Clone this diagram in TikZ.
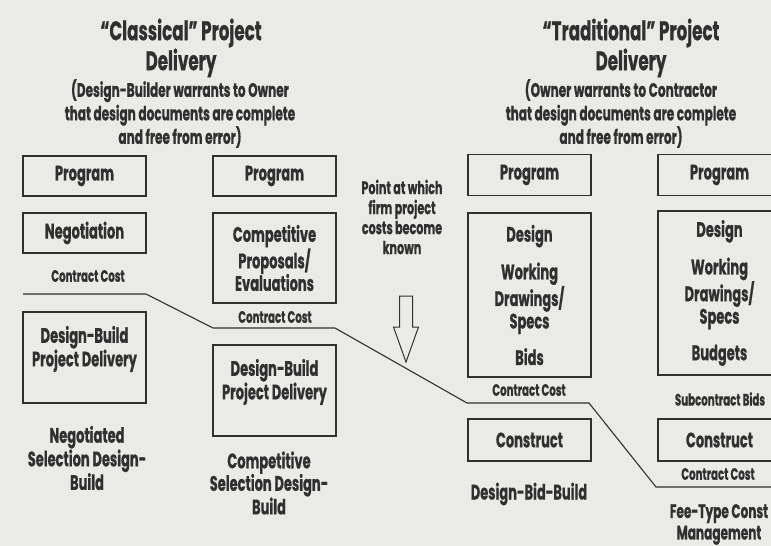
\documentclass[tikz,border=0pt]{standalone}
\usepackage{fontspec}
\usepackage{xcolor}
\usepackage{tikz}
\usetikzlibrary{positioning}
\newfontfamily\condfont{Poppins}[FakeStretch=0.62, FakeBold=0.6]
\definecolor{paper}{RGB}{234,234,231}
\definecolor{ink}{RGB}{48,48,48}
\tikzset{
  box/.style={draw=ink, line width=1.1pt, minimum width=123pt, inner sep=0pt},
  txt/.style={text=ink, align=center, font=\condfont\bfseries\fontsize{21}{22.5}\selectfont},
  title/.style={txt, font=\condfont\bfseries\fontsize{27}{30}\selectfont},
  sub/.style={txt, font=\condfont\bfseries\fontsize{19.5}{23.5}\selectfont},
  cost/.style={txt, font=\condfont\bfseries\fontsize{16.5}{17}\selectfont},
  note/.style={txt, font=\condfont\bfseries\fontsize{18}{20}\selectfont},
}
\begin{document}
\begin{tikzpicture}[x=1pt, y=-1pt]
    \fill[paper] (0,0) rectangle (771,546);
    \useasboundingbox (0,0) rectangle (771,546);

    % headings
    \node[title] (ctitle) at (181,48) {“Classical” Project\\Delivery};
    \node[sub] (csub) at (180,113.5) {(Design-Builder warrants to Owner\\that design documents are complete\\and free from error)};
    \node[title] (ttitle) at (631,48) {“Traditional” Project\\Delivery};
    \node[sub] (tsub) at (621,113.5) {(Owner warrants to Contractor\\that design documents are complete\\and free from error)};

    % negotiated design-build
    \node[box, minimum height=40pt, txt] (prog1) at (84.5,176) {Program};
    \node[box, minimum height=40pt, txt] (nego) at (84.5,233) {Negotiation};
    \node[cost] (cost1) at (88,276) {Contract Cost};
    \node[box, minimum height=91pt] (db1) at (84.5,357.5) {};
    \node[txt, below=11pt of db1.north] (db1txt) {Design-Build\\Project Delivery};
    \node[txt] (neg) at (87,458) {Negotiated\\Selection Design-\\Build};

    % competitive design-build
    \node[box, minimum height=40pt, txt] (prog2) at (274.5,176) {Program};
    \node[box, minimum height=90pt, txt] (comp) at (274.5,258) {Competitive\\Proposals/\\Evaluations};
    \node[cost] (cost2) at (275,317) {Contract Cost};
    \node[box, minimum height=91pt] (db2) at (274.5,390.5) {};
    \node[txt, below=11pt of db2.north] (db2txt) {Design-Build\\Project Delivery};
    \node[txt] (compsel) at (269,483) {Competitive\\Selection Design-\\Build};

    % point at which costs are known
    \node[note] (point) at (402,217) {Point at which\\firm project\\costs become\\known};
    \coordinate (arrtop) at (406,296);
    \draw[ink, line width=1pt, line join=miter] (arrtop) ++(-6.5,0) -- ++(13,0) -- ++(0,31) -- ++(6,0)
        -- ++(-12.5,35) -- ++(-12.5,-35) -- ++(6,0) -- cycle;

    % design-bid-build
    \node[box, minimum height=41pt, txt] (prog3) at (529.5,175) {Program};
    \node[box, minimum height=164pt, txt] (des3) at (529.5,295) {Design\\[14pt]Working\\Drawings/\\Specs\\[14pt]Bids};
    \node[cost] (cost3) at (529,390) {Contract Cost};
    \node[box, minimum height=42pt, txt] (cons3) at (529.5,440) {Construct};
    \node[txt] (dbb) at (529,494) {Design-Bid-Build};

    % fee-type construction management
    \node[box, minimum height=41pt, txt] (prog4) at (719.5,175) {Program};
    \node[box, minimum height=164pt, txt] (des4) at (719.5,293) {Design\\[14pt]Working\\Drawings/\\Specs\\[14pt]Budgets};
    \node[cost] (sub4) at (720,399) {Subcontract Bids};
    \node[box, minimum height=42pt, txt] (cons4) at (719.5,440) {Construct};
    \node[cost] (cost4) at (718,474) {Contract Cost};
    \node[txt, inner sep=1pt, font=\condfont\bfseries\fontsize{19.5}{21.5}\selectfont] (fee) at (719,524.5) {Fee-Type Const\\Management};

    % contract cost line
    \coordinate (l0) at (23,294);
    \coordinate (l1) at (146,294);
    \coordinate (l2) at (213,328);
    \coordinate (l3) at (335,328);
    \coordinate (l4) at (467,403);
    \coordinate (l5) at (589,403);
    \coordinate (l6) at (656,487);
    \coordinate (l7) at (771,487);
    \draw[ink, line width=1.1pt] (l0) -- (l1) -- (l2) -- (l3) -- (l4) -- (l5) -- (l6) -- (l7);

  \end{tikzpicture}
\end{document}
